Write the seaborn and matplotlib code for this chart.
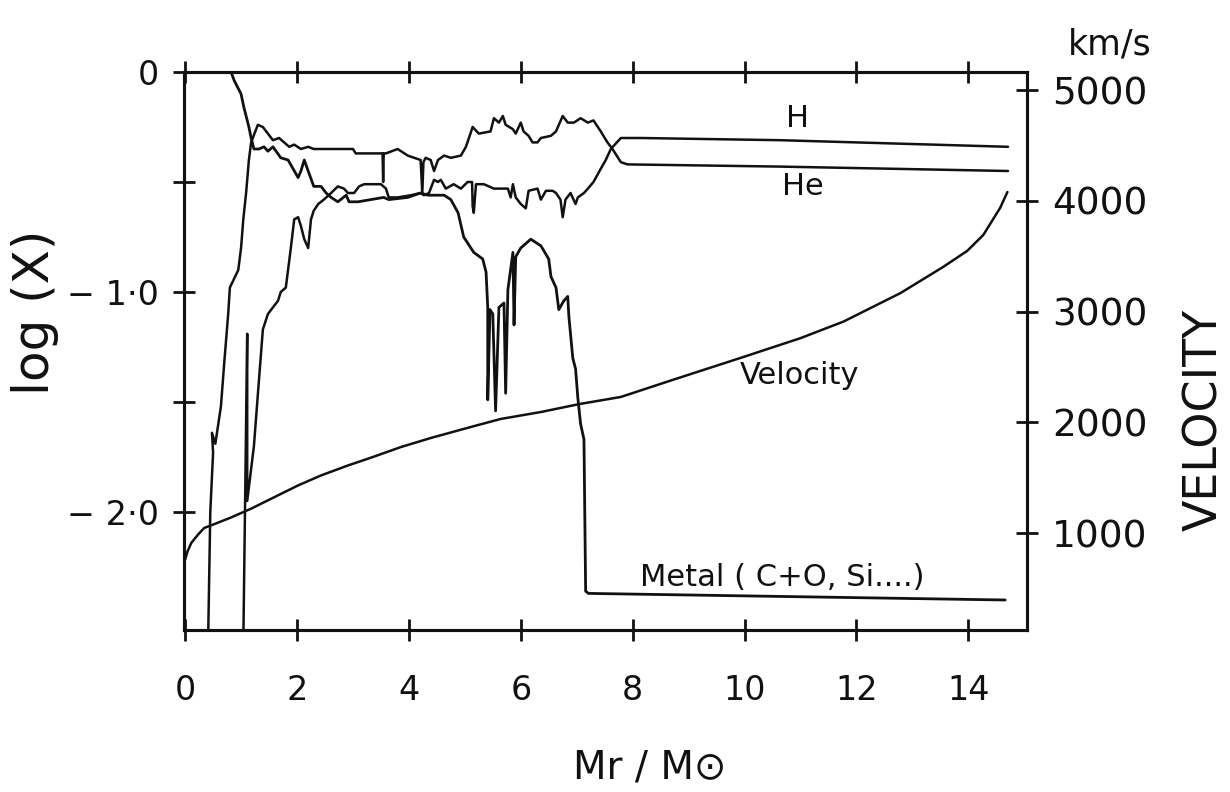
import matplotlib
matplotlib.use("Agg")
import matplotlib.pyplot as plt
import pandas as pd
import seaborn as sns

# Interior mass coordinate (Mr/Msun) and log mass fraction of each species
he_m = [0.41, 0.45, 0.50, 0.48, 0.54, 0.64, 0.70, 0.77, 0.80, 0.95, 1.00, 1.04,
        1.09, 1.14, 1.18, 1.21, 1.30, 1.39, 1.48, 1.57, 1.68, 1.77, 1.86, 1.95,
        2.07, 2.20, 2.30, 2.48, 2.61, 3.00, 3.05, 3.53, 3.54, 3.55, 3.59, 3.80,
        3.98, 4.21, 4.24, 4.26, 4.30, 4.39, 4.45, 4.52, 4.63, 4.75, 4.93, 5.02,
        5.14, 5.25, 5.46, 5.52, 5.61, 5.68, 5.73, 5.86, 5.91, 6.00, 6.05, 6.14,
        6.21, 6.30, 6.36, 6.54, 6.63, 6.75, 6.84, 6.95, 7.07, 7.20, 7.30, 7.43,
        7.55, 7.64, 7.79, 7.91, 10.64, 14.71]
he_logx = [-2.60, -2.00, -1.73, -1.64, -1.69, -1.52, -1.32, -1.10, -0.98, -0.90,
           -0.80, -0.67, -0.55, -0.40, -0.32, -0.30, -0.24, -0.25, -0.28, -0.31,
           -0.30, -0.32, -0.34, -0.33, -0.35, -0.34, -0.35, -0.35, -0.35, -0.35,
           -0.37, -0.37, -0.50, -0.37, -0.37, -0.35, -0.38, -0.40, -0.55, -0.41,
           -0.39, -0.40, -0.45, -0.40, -0.38, -0.39, -0.38, -0.34, -0.25, -0.28,
           -0.27, -0.21, -0.23, -0.20, -0.24, -0.26, -0.28, -0.23, -0.27, -0.29,
           -0.32, -0.32, -0.30, -0.29, -0.27, -0.20, -0.23, -0.23, -0.21, -0.23,
           -0.22, -0.27, -0.32, -0.35, -0.41, -0.42, -0.43, -0.45]

h_m = [1.04, 1.07, 1.11, 1.11, 1.23, 1.32, 1.39, 1.48, 1.66, 1.71, 1.80, 1.89,
       1.95, 2.02, 2.07, 2.13, 2.20, 2.25, 2.30, 2.38, 2.48, 2.61, 2.73, 2.84,
       2.91, 3.02, 3.11, 3.20, 3.38, 3.50, 3.59, 3.64, 3.80, 4.04, 4.21, 4.27,
       4.36, 4.45, 4.52, 4.57, 4.66, 4.80, 4.93, 5.05, 5.13, 5.14, 5.16, 5.20,
       5.34, 5.52, 5.77, 5.82, 5.86, 5.91, 6.00, 6.09, 6.14, 6.30, 6.36, 6.45,
       6.57, 6.63, 6.71, 6.75, 6.80, 6.89, 6.98, 7.02, 7.13, 7.20, 7.30, 7.43,
       7.52, 7.61, 7.79, 8.14, 10.64, 14.71]
h_logx = [-2.60, -2.00, -1.19, -1.95, -1.70, -1.40, -1.17, -1.10, -1.04, -1.00,
          -0.98, -0.80, -0.67, -0.66, -0.70, -0.76, -0.80, -0.67, -0.63, -0.60,
          -0.58, -0.55, -0.52, -0.53, -0.55, -0.55, -0.52, -0.51, -0.51, -0.51,
          -0.53, -0.57, -0.57, -0.56, -0.55, -0.56, -0.55, -0.49, -0.50, -0.49,
          -0.53, -0.51, -0.53, -0.50, -0.50, -0.61, -0.64, -0.51, -0.51, -0.53,
          -0.53, -0.57, -0.51, -0.57, -0.60, -0.62, -0.54, -0.53, -0.58, -0.54,
          -0.54, -0.55, -0.58, -0.66, -0.58, -0.55, -0.60, -0.57, -0.55, -0.53,
          -0.50, -0.44, -0.40, -0.35, -0.30, -0.30, -0.31, -0.34]

metal_m = [0.00, 0.82, 0.88, 1.00, 1.05, 1.14, 1.18, 1.23, 1.32, 1.41, 1.48,
           1.57, 1.71, 1.84, 2.02, 2.07, 2.13, 2.20, 2.30, 2.43, 2.52, 2.61,
           2.73, 2.88, 2.93, 3.09, 3.32, 3.55, 3.64, 3.98, 4.21, 4.34, 4.63,
           4.75, 4.88, 4.98, 5.16, 5.32, 5.38, 5.41, 5.41, 5.45, 5.50, 5.55,
           5.61, 5.70, 5.73, 5.77, 5.86, 5.88, 5.91, 6.00, 6.18, 6.36, 6.50,
           6.54, 6.63, 6.68, 6.77, 6.84, 6.86, 6.93, 6.98, 7.02, 7.07, 7.13,
           7.16, 7.21, 14.66]
metal_logx = [0.00, 0.00, -0.04, -0.10, -0.16, -0.25, -0.30, -0.35, -0.35,
              -0.34, -0.36, -0.34, -0.39, -0.40, -0.48, -0.45, -0.40, -0.45,
              -0.52, -0.52, -0.55, -0.57, -0.59, -0.56, -0.59, -0.59, -0.58,
              -0.57, -0.58, -0.57, -0.55, -0.56, -0.56, -0.58, -0.64, -0.75,
              -0.82, -0.85, -0.91, -1.07, -1.49, -1.08, -1.10, -1.54, -1.07,
              -1.05, -1.46, -0.99, -0.82, -1.15, -0.84, -0.80, -0.76, -0.79,
              -0.85, -0.93, -0.98, -1.08, -1.04, -1.02, -1.11, -1.30, -1.35,
              -1.48, -1.60, -1.67, -2.36, -2.37, -2.40]

# Expansion velocity (km/s) against the same mass coordinate
vel_m = [0.00, 0.04, 0.11, 0.23, 0.34, 0.52, 0.82, 1.18, 1.54, 2.02, 2.43,
         2.91, 3.32, 3.86, 4.39, 5.11, 5.64, 6.36, 7.05, 7.79, 8.71, 9.95,
         11.00, 11.77, 12.79, 13.55, 13.98, 14.27, 14.57, 14.70]
vel_kms = [760, 830, 910, 985, 1045, 1080, 1140, 1220, 1310, 1430, 1520, 1610,
           1680, 1777, 1858, 1958, 2030, 2093, 2165, 2229, 2382, 2585, 2760,
           2910, 3168, 3403, 3548, 3693, 3937, 4080]

x_ticks = [0, 2, 4, 6, 8, 10, 12, 14]
x_labels = ["0", "2", "4", "6", "8", "10", "12", "14"]
y_ticks = [0.0, -0.5, -1.0, -1.5, -2.0]
y_labels = ["0", "", "\u2212 1\u00b70", "", "\u2212 2\u00b70"]
v_ticks = [1000, 2000, 3000, 4000, 5000]
v_labels = ["1000", "2000", "3000", "4000", "5000"]

sns.set_theme(style="ticks")
plt.rcParams["font.family"] = ["DejaVu Sans"]

W, H = 1230, 792
fig = plt.figure(figsize=(W / 100, H / 100), dpi=100)
ax = fig.add_axes([184 / W, 1 - 630 / H, (1027 - 184) / W, (630 - 72) / H])
ax2 = ax.twinx()

ink = "#111111"
lw = 1.8

species = [
    ("He", he_m, he_logx),
    ("H", h_m, h_logx),
    ("Metal", metal_m, metal_logx),
]
for name, m, lx in species:
    df = pd.DataFrame({"m": m, "logx": lx})
    sns.lineplot(data=df, x="m", y="logx", ax=ax, sort=False, estimator=None,
                 color=ink, lw=lw if name != "Metal" else 2.0)

vdf = pd.DataFrame({"m": vel_m, "v": vel_kms})
sns.lineplot(data=vdf, x="m", y="v", ax=ax2, sort=False, estimator=None,
             color=ink, lw=lw)

ax.set_xlim(-0.02, 15.05)
ax.set_ylim(-(630 - 72) / 220, 0.0)
ax2.set_ylim(1000 + (533 - 630) / 0.1107, 1000 + (533 - 72) / 0.1107)

ax.set_xticks(x_ticks)
ax.set_xticklabels(x_labels)
ax.set_yticks(y_ticks)
ax.set_yticklabels(y_labels)
ax2.set_yticks(v_ticks)
ax2.set_yticklabels(v_labels)

for a in (ax, ax2):
    a.set_xlabel("")
    a.set_ylabel("")
    for s in a.spines.values():
        s.set_linewidth(2.2)
        s.set_color(ink)

ax.tick_params(axis="x", which="both", direction="inout", length=16, width=2.0,
               top=True, bottom=True, labelsize=24, pad=24, colors=ink)
ax.tick_params(axis="y", direction="inout", length=16, width=2.0,
               labelsize=24, pad=10, colors=ink)
ax2.tick_params(axis="y", direction="inout", length=16, width=2.0,
                labelsize=27, pad=10, colors=ink)

ax.text(10.95, -0.21, "H", fontsize=22, ha="center", va="center", color=ink)
ax.text(11.05, -0.52, "He", fontsize=22, ha="center", va="center", color=ink)
ax.text(10.98, -1.38, "Velocity", fontsize=22, ha="center", va="center", color=ink)
ax.text(10.68, -2.30, "Metal ( C+O, Si....)", fontsize=22, ha="center",
        va="center", color=ink)

fig.text(35 / W, 1 - 312 / H, "log (X)", rotation=90, fontsize=36,
         ha="center", va="center", color=ink)
fig.text(650 / W, 1 - 768 / H, "Mr / M\u2299", fontsize=28,
         ha="center", va="center", color=ink)
fig.text(1205 / W, 1 - 420 / H, "VELOCITY", rotation=90, fontsize=33,
         ha="center", va="center", color=ink)
fig.text(1110 / W, 1 - 45 / H, "km/s", fontsize=25,
         ha="center", va="center", color=ink)

fig.savefig("out.png", dpi=100, facecolor="white")
